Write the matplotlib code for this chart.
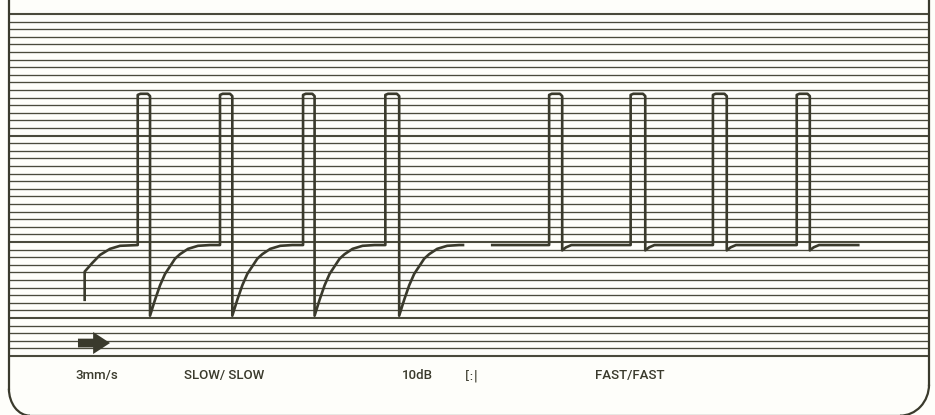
import numpy as np
import matplotlib.pyplot as plt
from matplotlib.patches import Arc, FancyArrow

# =========================
# 1. Data (x: chart units along paper, y: grid lines)
# =========================

grid_levels = np.arange(0, 46)          # horizontal ruling, 46 lines
heavy_levels = [0, 5, 15, 29, 45]

top_level = 34.5        # pulse peak
slow_plateau = 14.6
slow_floor = 5.3
fast_floor = 13.9

# first (partial) recovery at the start of the record
start_x = [10.1, 10.1, 11.05, 12.1, 13.4, 14.7]
start_y = [7.4, 11.1, 12.2, 13.3, 14.1, 14.5]

slow_rise = [17.0, 27.7, 38.5, 49.2]
slow_fall = [18.6, 29.3, 40.0, 51.0]
slow_end = 59.3

# recovery shape after a slow pulse (offset from the fall, level)
recovery_dx = [0.0, 0.65, 1.3, 1.95, 2.6, 3.25, 3.9, 4.94, 6.24, 7.8]
recovery_y = [5.3, 7.4, 9.3, 10.8, 11.8, 12.8, 13.4, 14.1, 14.5, 14.6]

fast_start = 63.1
fast_rise = [70.5, 81.1, 91.8, 102.7]
fast_fall = [72.2, 83.0, 93.6, 104.4]
fast_end = 110.7

labels = ["3mm/s", "SLOW/ SLOW", "10dB", "[:|", "FAST/FAST"]
label_x = [11.7, 28.3, 53.4, 60.5, 81.0]

ink = "#3a3a2c"
paper = "#fefefa"


def pulse(xs, ys, xr, xf, base_after):
    xs += [xr, xr, xr + 0.35, xf - 0.3, xf, xf]
    ys += [top_level - 0.5, top_level - 0.15, top_level, top_level, top_level - 0.3, base_after]


# =========================
# 2. Build trace pieces
# =========================

slow_x, slow_y = list(start_x), list(start_y)
for xr, xf in zip(slow_rise, slow_fall):
    slow_x.append(xr)
    slow_y.append(slow_plateau)
    pulse(slow_x, slow_y, xr, xf, slow_floor)
    slow_x += [xf + d for d in recovery_dx]
    slow_y += recovery_y
slow_x.append(slow_end)
slow_y.append(slow_plateau)

fast_x, fast_y = [fast_start], [slow_plateau]
for xr, xf in zip(fast_rise, fast_fall):
    fast_x.append(xr)
    fast_y.append(slow_plateau)
    pulse(fast_x, fast_y, xr, xf, fast_floor)
    fast_x += [xf + 0.5, xf + 1.2]
    fast_y += [14.3, slow_plateau]
fast_x.append(fast_end)
fast_y.append(slow_plateau)

# =========================
# 3. Plot
# =========================

fig = plt.figure(figsize=(9.35, 4.15), dpi=100, facecolor=paper)
ax = fig.add_axes([0, 0, 1, 1])
ax.set_facecolor(paper)
ax.set_xlim(-0.91, 120.68)
ax.set_ylim(-7.76, 46.84)
ax.axis("off")

left_x, right_x = 0.25, 119.9
for lv in grid_levels:
    lw = 1.5 if lv in heavy_levels else 0.95
    ax.plot([left_x, right_x], [lv, lv], color=ink, lw=lw, alpha=0.92,
            solid_capstyle="butt")

# paper frame with rounded bottom corners
bottom_y = -7.85
ax.plot([left_x, left_x], [bottom_y + 3.55, 47], color=ink, lw=1.6)
ax.plot([right_x, right_x], [bottom_y + 4.08, 47], color=ink, lw=1.6)
ax.add_patch(Arc((left_x + 2.73, bottom_y + 3.55), 5.46, 7.1, theta1=180, theta2=270,
                 color=ink, lw=1.6))
ax.add_patch(Arc((right_x - 3.77, bottom_y + 4.08), 7.54, 8.16, theta1=270, theta2=360,
                 color=ink, lw=1.6))
ax.plot([left_x + 2.73, right_x - 3.77], [bottom_y, bottom_y], color=ink, lw=1.6)

ax.plot(slow_x, slow_y, color=ink, lw=1.9, solid_joinstyle="round")
ax.plot(fast_x, fast_y, color=ink, lw=1.9, solid_joinstyle="round")

ax.add_patch(FancyArrow(9.23, 1.71, 4.17, 0, width=1.15, head_width=2.9,
                        head_length=2.2, length_includes_head=True,
                        color=ink, lw=0))

for txt, x in zip(labels, label_x):
    # the little attenuator symbol is wider in the original, DejaVu spaces it out
    fam = ["DejaVu Sans"] if txt == "[:|" else ["Roboto", "DejaVu Sans"]
    ax.text(x, -2.6, txt, ha="center", va="center", fontsize=9.5,
            family=fam, fontweight="medium", color=ink)

plt.savefig("out.png", dpi=100, facecolor=paper)
